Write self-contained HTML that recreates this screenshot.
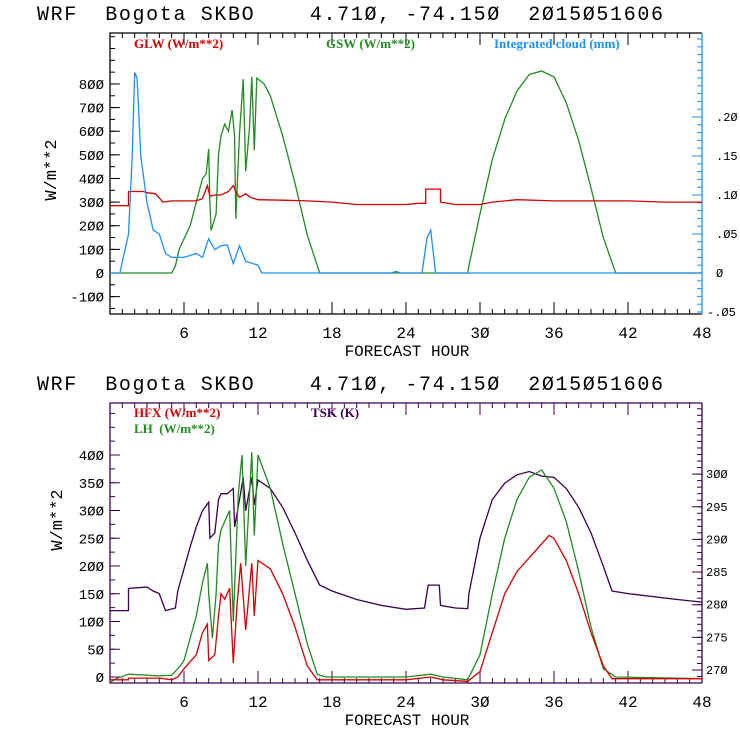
<!DOCTYPE html>
<html><head><meta charset="utf-8"><style>
body{margin:0;background:#fff;width:740px;height:740px;overflow:hidden}
svg{display:block}
text{font-family:"Liberation Mono",monospace;white-space:pre}
.lg{font-family:"Liberation Serif",serif;font-weight:bold;font-size:13px}
</style></head><body>
<svg id="c" width="740" height="740" xmlns="http://www.w3.org/2000/svg"></svg>
<script>
// ---- data (hours / values) ----
const glwH=[0,1.5,1.5,2.7,3.0,3.7,4.3,5,6,7,7.5,7.9,8.1,8.5,9,9.6,10.0,10.2,10.5,11,11.4,12,14,16,18,20,24,25,25.6,25.6,26.8,26.8,28,30,31,33,36,42,45,48];
const glwV=[285,285,345,345,340,335,300,305,305,305,315,370,325,330,330,345,370,345,320,335,320,310,308,305,300,290,290,295,295,355,355,300,290,290,300,310,305,305,300,300];
const gswH=[0,5,5.3,5.6,6.5,7,7.5,7.8,8,8.1,8.2,8.6,8.8,9,9.3,9.6,9.9,10.1,10.2,10.5,10.8,11,11.3,11.5,11.7,11.9,12.5,13,14,15,16,17,29,29.1,30,31,32,33,34,35,36,37,38,39,40,41,48];
const gswV=[0,0,30,100,200,300,400,420,525,300,180,250,500,580,630,600,690,580,230,590,820,430,610,830,520,825,800,750,580,380,160,0,0,30,250,480,650,770,840,855,830,720,560,360,150,0,0];
const cldH=[0,0.8,1.5,1.8,2.0,2.2,2.5,3,3.5,4,4.5,5,6,7,7.5,8,8.5,9,9.5,10,10.5,11,12,12.3,22.8,23.2,23.6,25.3,25.7,26,26.4,48];
const cldV=[0,0,0.05,0.15,0.257,0.25,0.15,0.09,0.055,0.05,0.025,0.02,0.02,0.025,0.02,0.044,0.03,0.035,0.036,0.012,0.035,0.015,0.01,0,0,0.002,0,0,0.045,0.055,0,0];
const hfxH=[0,1.5,1.5,4,5,5.5,6,7,7.5,7.9,8,8.5,8.8,9,9.3,9.7,10,10.3,10.6,11,11.5,11.7,12,13,14,15,16,16.8,24,26,27,29,30,31,32,33,34,35,35.6,36,37,38,39,40,40.7,48];
const hfxV=[-5,-5,-2,-2,-5,0,15,40,80,95,30,40,110,150,140,160,25,130,205,85,205,110,210,195,150,90,20,-5,-5,0,-5,-8,10,80,150,190,215,240,255,250,210,150,80,20,-3,-3];
const lhH=[0,0.5,1.5,4,5,5.7,6,7,7.5,7.9,8,8.3,8.6,8.8,9,9.7,10,10.4,10.7,11,11.5,11.7,12,13,14,15,16,16.8,17.5,24,26,27,29,30,31,32,33,34,35,36,37,38,39,40,41,48];
const lhV=[-10,-3,5,2,3,20,30,110,170,205,150,70,150,240,265,300,100,330,400,200,405,255,400,340,240,150,60,5,0,0,5,0,-5,40,150,250,320,360,373,340,280,190,90,15,0,-3];
const tskH=[0,1.5,1.5,3,3.5,4,4.5,5.3,5.5,6,6.5,7,7.5,8,8.1,8.5,8.8,9,9.5,10,10.1,10.5,10.8,11,11.5,11.7,12,13,14,15,16,17,18,20,22,24,25.5,25.8,26.7,26.8,28,29,29.1,30,31,32,33,34,35,36,37,38,39,40,40.7,42,46,48];
const tskV=[279.1,279.1,282.5,282.7,282.1,281.7,279.1,279.5,282.1,285.5,288.9,291.9,294.4,295.7,290.2,291.0,296.1,297.0,297.0,297.8,291.9,296.1,299.5,294.4,299.5,295.3,299.1,297.8,294.9,291.0,286.8,283.0,282.1,280.8,279.9,279.3,279.5,283.0,283.0,279.9,279.5,279.4,281.7,290.2,296.1,298.6,299.9,300.4,299.7,299.5,297.8,294.9,291.0,285.9,282.1,281.7,280.8,280.4];
const xTicks=[6,12,18,24,30,36,42,48];
const topLeftTicks=[-100,0,100,200,300,400,500,600,700,800];
const topRightTicks=[0,0.05,0.10,0.15,0.20];
const topRightLabels=["0",".05",".10",".15",".20"];
const botLeftTicks=[0,50,100,150,200,250,300,350,400];
const botRightTicks=[270,275,280,285,290,295,300];

const svg=document.getElementById('c');
const NS='http://www.w3.org/2000/svg';
function el(tag,attrs,name,txt){const e=document.createElementNS(NS,tag);for(const k in attrs)e.setAttribute(k,attrs[k]);


if(txt!==undefined)e.textContent=txt;svg.appendChild(e);return e;}
const X0=110,X1=702;const xs=h=>X0+h*(X1-X0)/48;
function line(H,V,ys,col,name){let d='';for(let i=0;i<H.length;i++)d+=(i?'L':'M')+xs(H[i]).toFixed(1)+' '+ys(V[i]).toFixed(1);
el('path',{d:d,fill:'none',stroke:col,'stroke-width':1.3},name);}
function panel(p){
 const {top,bot,frame,rcol}=p;
 el('text',{x:37,y:p.titleY,'font-size':20,fill:'#000',textLength:626,lengthAdjust:'spacing'},p.pre+'title','WRF  Bogota SKBO    4.71\u00d8, -74.15\u00d8  2\u00d815\u00d851606');
 for(let h=1;h<48;h++){const mj=h%6==0;const L=mj?12:5;
  el('line',{x1:xs(h),x2:xs(h),y1:bot,y2:bot-L,stroke:frame},p.pre+'x-tick');
  el('line',{x1:xs(h),x2:xs(h),y1:top,y2:top+L,stroke:frame},p.pre+'x-tick-top');}
 xTicks.forEach(h=>el('text',{x:xs(h),y:bot+24,'font-size':16,'text-anchor':'middle'},p.pre+'x-tick-label',String(h).replace(/0/g,'\u00d8')));
 el('text',{x:407,y:bot+42,'font-size':16,'text-anchor':'middle'},p.pre+'x-axis-title','FORECAST HOUR');
 el('text',{x:0,y:0,'font-size':17,'text-anchor':'middle',transform:`translate(${p.ytx},${p.yty}) rotate(-90)`},p.pre+'y-axis-title','W/m**2');
 p.lt.forEach(v=>{el('line',{x1:X0,x2:X0+10,y1:p.yl(v),y2:p.yl(v),stroke:frame},p.pre+'y-tick');
  el('text',{x:104,y:p.yl(v)+5,'font-size':14,'text-anchor':'end'},p.pre+'y-tick-label',String(v).replace(/0/g,'\u00d8'));});
 for(let v=p.lmin;v<=p.lmax;v+=p.lminor)if(p.yl(v)>top&&p.yl(v)<bot)el('line',{x1:X0,x2:X0+5,y1:p.yl(v),y2:p.yl(v),stroke:frame},p.pre+'y-minor-tick');
 p.rt.forEach((v,i)=>{el('line',{x1:X1,x2:X1-10,y1:p.yr(v),y2:p.yr(v),stroke:rcol},p.pre+'y2-tick');
  el('text',{x:p.rlx,y:p.yr(v)+4,'font-size':12},p.pre+'y2-tick-label',(p.rl?p.rl[i]:String(v)).replace(/0/g,'\u00d8'));});
 for(let v=p.rmin;v<=p.rmax+1e-9;v+=p.rminor)if(p.yr(v)>top&&p.yr(v)<bot)el('line',{x1:X1,x2:X1-5,y1:p.yr(v),y2:p.yr(v),stroke:rcol},p.pre+'y2-minor-tick');
 el('path',{d:`M${X1} ${top}H${X0}V${bot}H${X1}`,fill:'none',stroke:frame,'stroke-width':1.3},p.pre+'plot-frame');
 el('line',{x1:X1,x2:X1,y1:top,y2:bot,stroke:rcol,'stroke-width':1.3},p.pre+'right-axis');
}
const ytl=v=>273-v*0.2363, ytr=v=>273-v*780;
panel({pre:'top-',titleY:20,top:33,bot:314,frame:'#000',rcol:'#1e8fff',yl:ytl,yr:ytr,lt:topLeftTicks,lmin:-150,lmax:1000,lminor:50,rt:topRightTicks,rl:topRightLabels,rmin:-0.05,rmax:0.3,rminor:0.01,rlx:716,ytx:56,yty:170});
el('text',{x:707,y:316,'font-size':12},'top-y2-tick-label','-.\u00d85');
line(gswH,gswV,ytl,'#228b22','gsw-line');
line(glwH,glwV,ytl,'#d40000','glw-line');
line(cldH,cldV,ytr,'#1e8fff','cloud-line');
el('text',{x:134,y:48,class:'lg',fill:'#d40000'},'legend-glw','GLW (W/m**2)');
el('text',{x:326,y:48,class:'lg',fill:'#228b22'},'legend-gsw','GSW (W/m**2)');
el('text',{x:494,y:48,class:'lg',fill:'#1e8fff'},'legend-cloud','Integrated cloud (mm)');
const ybl=v=>677-v*0.555, ybr=v=>670-(v-270)*6.53;
panel({pre:'bottom-',titleY:390,top:403,bot:683,frame:'#3c0050',rcol:'#3c0050',yl:ybl,yr:ybr,lt:botLeftTicks,lmin:-25,lmax:475,lminor:25,rt:botRightTicks,rmin:268,rmax:312,rminor:1,rlx:706,ytx:62,yty:520});
line(tskH,tskV,ybr,'#3c0050','tsk-line');
line(lhH,lhV,ybl,'#228b22','lh-line');
line(hfxH,hfxV,ybl,'#d40000','hfx-line');
el('text',{x:134,y:417,class:'lg',fill:'#d40000'},'legend-hfx','HFX (W/m**2)');
el('text',{x:134,y:433,class:'lg',fill:'#228b22'},'legend-lh','LH  (W/m**2)');
el('text',{x:311,y:417,class:'lg',fill:'#3c0050'},'legend-tsk','TSK (K)');
</script>
</body></html>
